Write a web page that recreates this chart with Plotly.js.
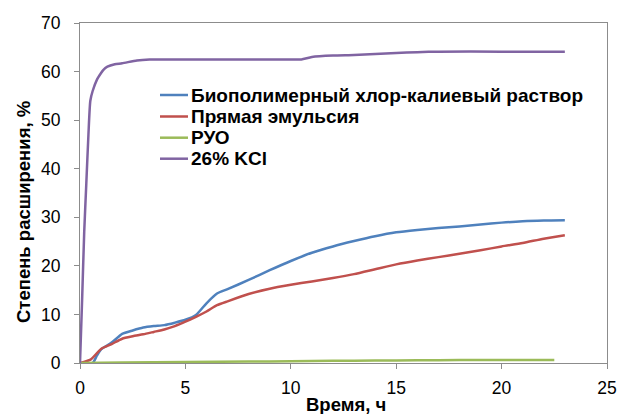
<!DOCTYPE html>
<html>
<head>
<meta charset="utf-8">
<script src="https://cdn.plot.ly/plotly-3.0.1.min.js"></script>
<style>html,body{margin:0;padding:0;background:#fff;}#chart{width:621px;height:414px;}</style>
</head>
<body>
<div id="chart"></div>
<script>
// Series names
const seriesNames = ["Биополимерный хлор-калиевый раствор", "Прямая эмульсия", "РУО", "26% KCl"];

// Биополимерный хлор-калиевый раствор
const tBio = [0, 0.6, 0.8, 1.0, 1.5, 2.0, 2.5, 3.0, 3.5, 4.0, 4.5, 5.0, 5.5, 6.0, 6.5, 7, 8, 9, 10, 11, 12, 13, 14, 15, 16, 17, 18, 19, 20, 21, 22, 23];
const yBio = [0, 0, 1.5, 2.8, 4.2, 6.0, 6.7, 7.3, 7.6, 7.8, 8.3, 8.9, 9.9, 12.3, 14.3, 15.2, 17.1, 19.1, 21.0, 22.7, 24.0, 25.1, 26.1, 26.9, 27.4, 27.8, 28.1, 28.5, 28.9, 29.2, 29.35, 29.4];

// Прямая эмульсия
const tEmu = [0, 0.5, 1.0, 1.5, 2.0, 2.5, 3.0, 3.5, 4.0, 4.5, 5.0, 5.5, 6.0, 6.5, 7, 8, 9, 10, 11, 12, 13, 14, 15, 16, 17, 18, 19, 20, 21, 22, 23];
const yEmu = [0, 0.7, 2.9, 3.9, 5.0, 5.5, 5.9, 6.4, 6.9, 7.6, 8.5, 9.5, 10.6, 11.9, 12.7, 14.2, 15.3, 16.1, 16.8, 17.5, 18.3, 19.3, 20.3, 21.1, 21.8, 22.5, 23.2, 24.0, 24.7, 25.6, 26.3];

// РУО
const tRuo = [0, 2, 5, 8, 10, 12, 14, 16, 18, 20, 22.5];
const yRuo = [0, 0.1, 0.2, 0.3, 0.35, 0.45, 0.5, 0.55, 0.6, 0.6, 0.6];

// 26% KCl
const tKcl = [0, 0.1, 0.2, 0.3, 0.4, 0.49, 0.6, 0.8, 1.0, 1.1, 1.3, 1.65, 2.0, 2.7, 3.3, 4, 6, 8, 10, 10.5, 11, 12, 13, 14, 15, 16, 17, 20, 23];
const yKcl = [0, 13, 27, 37, 47, 54, 56, 58.3, 59.7, 60.3, 61, 61.5, 61.7, 62.3, 62.5, 62.5, 62.5, 62.5, 62.5, 62.5, 63.0, 63.3, 63.4, 63.6, 63.8, 64.0, 64.1, 64.1, 64.1];

const colors = ["#4F81BD", "#C0504D", "#9BBB59", "#8064A2"];
const xs = [tBio, tEmu, tRuo, tKcl];
const ys = [yBio, yEmu, yRuo, yKcl];

const traces = seriesNames.map((n, i) => ({
  x: xs[i], y: ys[i], name: n, type: "scatter", mode: "lines",
  line: {color: colors[i], width: 2.5, shape: "spline", smoothing: 0.6},
  showlegend: false
}));

// manual legend (layout only)
const W = 527, H = 340, L = 80, T = 23;
const px = v => (v - L) / W;
const py = v => (T + H - v) / H;
const legendRows = [95, 116.5, 137.7, 158.7];
const shapes = [], annotations = [];
seriesNames.forEach((n, i) => {
  shapes.push({type: "line", xref: "paper", yref: "paper", x0: px(160), x1: px(188), y0: py(legendRows[i]), y1: py(legendRows[i]),
    line: {color: colors[i], width: 2.5}});
  annotations.push({xref: "paper", yref: "paper", x: px(189), y: py(legendRows[i]), xanchor: "left", yanchor: "middle",
    text: "<b>" + n + "</b>", showarrow: false, font: {family: "Liberation Sans, Arial", size: 19, color: "#000"}});
});
annotations.push({xref: "paper", yref: "paper", x: px(346), y: py(404), xanchor: "center", yanchor: "middle",
  text: "<b>Время, ч</b>", showarrow: false, font: {family: "Liberation Sans, Arial", size: 18.5, color: "#000"}});
annotations.push({xref: "paper", yref: "paper", x: px(23), y: py(212), xanchor: "center", yanchor: "middle", textangle: -90,
  text: "<b>Степень расширения, %</b>", showarrow: false, font: {family: "Liberation Sans, Arial", size: 18.5, color: "#000"}});

const axisCommon = {
  showgrid: false, zeroline: false, showline: true, mirror: true, linecolor: "#8c8c8c", linewidth: 1,
  ticks: "outside", ticklen: 5, tickcolor: "#8c8c8c", tickwidth: 1,
  tickfont: {family: "Liberation Sans, Arial", size: 17.5, color: "#000"}
};

const layout = {
  width: 621, height: 414,
  margin: {l: 80, r: 14, t: 23, b: 51},
  paper_bgcolor: "#fff", plot_bgcolor: "#fff",
  xaxis: Object.assign({}, axisCommon, {range: [0, 25], tick0: 0, dtick: 5, ticklabelstandoff: 4}),
  yaxis: Object.assign({}, axisCommon, {range: [0, 70], tick0: 0, dtick: 10, ticklabelstandoff: 10}),
  shapes: shapes, annotations: annotations, showlegend: false
};

Plotly.newPlot("chart", traces, layout, {staticPlot: true, displayModeBar: false});
</script>
</body>
</html>
